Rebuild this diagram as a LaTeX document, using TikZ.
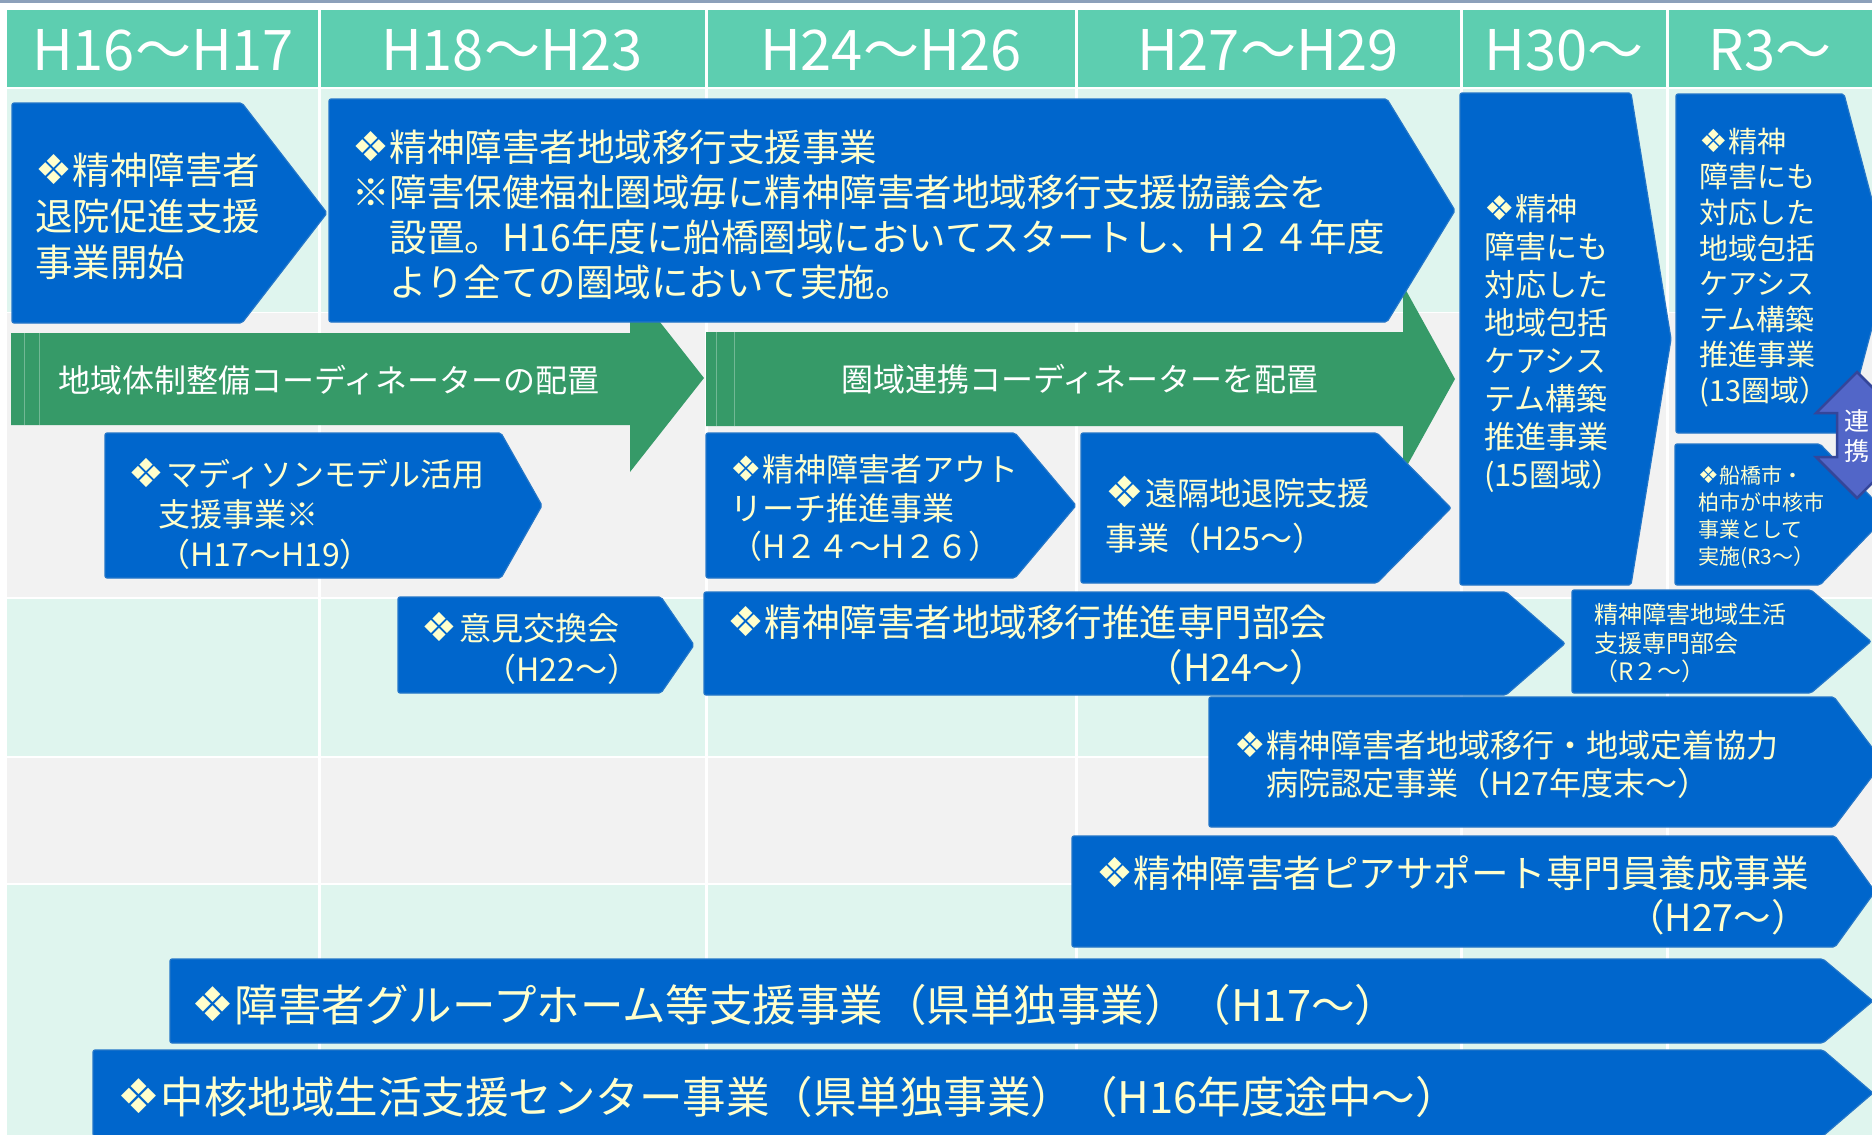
\documentclass[tikz,border=0pt]{standalone}
\usepackage{fontspec}
\usepackage{graphicx}
\setmainfont{Noto Sans CJK JP}
\newfontfamily\djfont{DejaVu Sans}
\definecolor{hdr}{RGB}{93,206,176}
\definecolor{mint}{RGB}{223,245,238}
\definecolor{lgrey}{RGB}{242,242,242}
\definecolor{bfill}{RGB}{0,102,204}
\definecolor{bedge}{RGB}{36,118,200}
\definecolor{gfill}{RGB}{54,154,104}
\definecolor{cream}{RGB}{255,255,204}
\definecolor{topline}{RGB}{140,160,186}
\definecolor{lkfill}{RGB}{82,102,200}
\definecolor{lkedge}{RGB}{52,70,154}
\newcommand\fs[2]{\fontsize{#1}{#2}\selectfont}
\newcommand\dia{\makebox[1em][l]{\scalebox{1.1}{\djfont ❖}}}
\newcommand\diab{\makebox[1.2em][l]{\raisebox{-0.04em}{\scalebox{1.25}{\djfont ❖}}}}
\newcommand\diac{\makebox[1.25em][l]{\raisebox{-0.06em}{\scalebox{1.35}{\djfont ❖}}}}
\tikzset{
 bshape/.style={fill=bfill, draw=bedge, line width=1.2pt, rounded corners=2pt},
 gshape/.style={fill=gfill},
 gstripe/.style={draw=gfill!70!white, line width=1pt},
 txt/.style={anchor=west, inner sep=0pt, align=left, text=cream},
 wtxt/.style={anchor=west, inner sep=0pt, text=white},
 hdrtxt/.style={text=white, font=\fs{56}{60}, inner sep=0pt},
}
\begin{document}
\begin{tikzpicture}[x=1pt,y=-1pt]
\useasboundingbox (0,0) rectangle (1872,1135);
\clip (0,0) rectangle (1872,1135);
\fill[white] (0,0) rectangle (1872,1135);
\fill[topline] (0,0) rectangle (1872,2.5);
% header and rows
\fill[hdr] (7,10) rectangle (1872,87);
\fill[mint] (7,88.5) rectangle (1872,311.5);
\fill[lgrey] (7,313) rectangle (1872,596.5);
\fill[mint] (7,598.5) rectangle (1872,756);
\fill[lgrey] (7,758) rectangle (1872,882.5);
\fill[mint] (7,884.5) rectangle (1872,1135);
\foreach \x in {319,706,1076,1461,1667} \fill[white] (\x-1.5,10) rectangle (\x+1.5,1135);
% header labels
\node[hdrtxt] (h1) at (163,50) {H16～H17};
\node[hdrtxt] (h2) at (512,50) {H18～H23};
\node[hdrtxt] (h3) at (891,50) {H24～H26};
\node[hdrtxt] (h4) at (1268,50) {H27～H29};
\node[hdrtxt] (h5) at (1564,50) {H30～};
\node[hdrtxt] (h6) at (1770,50) {R3～};
% green arrows
\fill[gshape] (11,333) -- (630,333) -- (630,284) -- (704,378) -- (630,472) -- (630,425) -- (11,425) -- cycle;
\draw[gstripe] (24,333) -- (24,425);
\draw[gstripe] (39,333) -- (39,425);
\fill[gshape] (706,332) -- (1403,332) -- (1403,285) -- (1455,379) -- (1403,473) -- (1403,426) -- (706,426) -- cycle;
\draw[gstripe] (716,332) -- (716,426);
\draw[gstripe] (734,332) -- (734,426);
% blue shapes
\draw[bshape] (12,103) -- (242,103) -- (327,213) -- (242,323) -- (12,323) -- cycle;
\draw[bshape] (329,99) -- (1387,99) -- (1455,210.5) -- (1387,322) -- (329,322) -- cycle;
\draw[bshape] (105,433) -- (501,433) -- (542,505.5) -- (501,578) -- (105,578) -- cycle;
\draw[bshape] (398,597) -- (661,597) -- (694,645) -- (661,693) -- (398,693) -- cycle;
\draw[bshape] (706,433) -- (1015,433) -- (1076,505.5) -- (1015,578) -- (706,578) -- cycle;
\draw[bshape] (1081,433) -- (1377,433) -- (1451,508) -- (1377,583) -- (1081,583) -- cycle;
\draw[bshape] (1460,93) -- (1631,93) -- (1671,339) -- (1631,585) -- (1460,585) -- cycle;
\draw[bshape] (1676,94) -- (1844,94) -- (1889,264) -- (1844,433) -- (1676,433) -- cycle;
\draw[bshape] (1675,444) -- (1820,444) -- (1888,514.5) -- (1820,585) -- (1675,585) -- cycle;
\draw[bshape] (704,592) -- (1506,592) -- (1565,643.5) -- (1506,695) -- (704,695) -- cycle;
\draw[bshape] (1572,590) -- (1811,590) -- (1871,641.5) -- (1811,693) -- (1572,693) -- cycle;
\draw[bshape] (1209,697) -- (1834,697) -- (1883,762) -- (1834,827) -- (1209,827) -- cycle;
\draw[bshape] (1072,836) -- (1835,836) -- (1875,891.5) -- (1835,947) -- (1072,947) -- cycle;
\draw[bshape] (170,959) -- (1823,959) -- (1873,1001) -- (1823,1043) -- (170,1043) -- cycle;
\draw[bshape] (93,1050) -- (1823,1050) -- (1873,1093) -- (1823,1136) -- (93,1136) -- cycle;
% link arrow
\draw[fill=lkfill, draw=lkedge, line width=2.5pt, line join=miter] (1857,372) -- (1898,413) -- (1877,413) -- (1877,457) -- (1898,457) -- (1857,498) -- (1816,457) -- (1837,457) -- (1837,413) -- (1816,413) -- cycle;
% texts
\node[wtxt, font=\fs{32}{38}] (g1t) at (58,380) {地域体制整備コーディネーターの配置};
\node[wtxt, font=\fs{32}{38}] (g2t) at (841,379) {圏域連携コーディネーターを配置};
\node[txt, font=\fs{37.5}{46}] (t1) at (35,216) {\dia 精神障害者\\退院促進支援\\事業開始};
\node[txt, font=\fs{37.5}{45}] (t2) at (352,214.5) {\dia 精神障害者地域移行支援事業\\※障害保健福祉圏域毎に精神障害者地域移行支援協議会を\\\hspace*{1em}設置。H16年度に船橋圏域においてスタートし、H２４年度\\\hspace*{1em}より全ての圏域において実施。};
\node[txt, font=\fs{32}{40}] (t5) at (128,514) {\diab マディソンモデル活用\\\hspace*{30pt}支援事業※\\\hspace*{30pt}（H17～H19）};
\node[txt, font=\fs{32}{41}] (t6) at (421,648.5) {\diab 意見交換会\\\hspace*{63pt}（H22～）};
\node[txt, font=\fs{32}{38.5}] (t7) at (730,508.5) {\dia 精神障害者アウト\\リーチ推進事業\\（H２４～H２６）};
\node[txt, font=\fs{32}{45}] (t8) at (1105,514.5) {\diac 遠隔地退院支援\\事業（H25～）};
\node[txt, font=\fs{31}{38}] (t9) at (1484,343.5) {\dia 精神\\障害にも\\対応した\\地域包括\\ケアシス\\テム構築\\推進事業\\(15圏域）};
\node[txt, font=\fs{29}{35.6}] (t10) at (1699,267.5) {\dia 精神\\障害にも\\対応した\\地域包括\\ケアシス\\テム構築\\推進事業\\(13圏域）};
\node[txt, font=\fs{21}{27}] (t11) at (1698,517.5) {\dia 船橋市・\\柏市が中核市\\事業として\\実施(R3～）};
\node[text=white, font=\fs{25}{30}, align=center, inner sep=0pt] (lk) at (1857,436) {連\\携};
\node[txt, align=right, font=\fs{37.5}{45}] (t12) at (727,645.5) {\dia 精神障害者地域移行推進専門部会\\（H24～）};
\node[txt, font=\fs{24}{28.5}] (t13) at (1594,643.3) {精神障害地域生活\\支援専門部会\\（R２～）};
\node[txt, font=\fs{32}{38}] (t14) at (1234,765) {\dia 精神障害者地域移行・地域定着協力\\\hspace*{1em}病院認定事業（H27年度末～）};
\node[txt, align=right, font=\fs{37.5}{44}] (t15) at (1096,895) {\dia 精神障害者ピアサポート専門員養成事業\\（H27～）};
\node[txt, font=\fs{43.5}{50}] (t16) at (191,1005) {\dia 障害者グループホーム等支援事業（県単独事業）（H17～）};
\node[txt, font=\fs{43.5}{50}] (t17) at (117,1097) {\dia 中核地域生活支援センター事業（県単独事業）（H16年度途中～）};
\end{tikzpicture}
\end{document}
